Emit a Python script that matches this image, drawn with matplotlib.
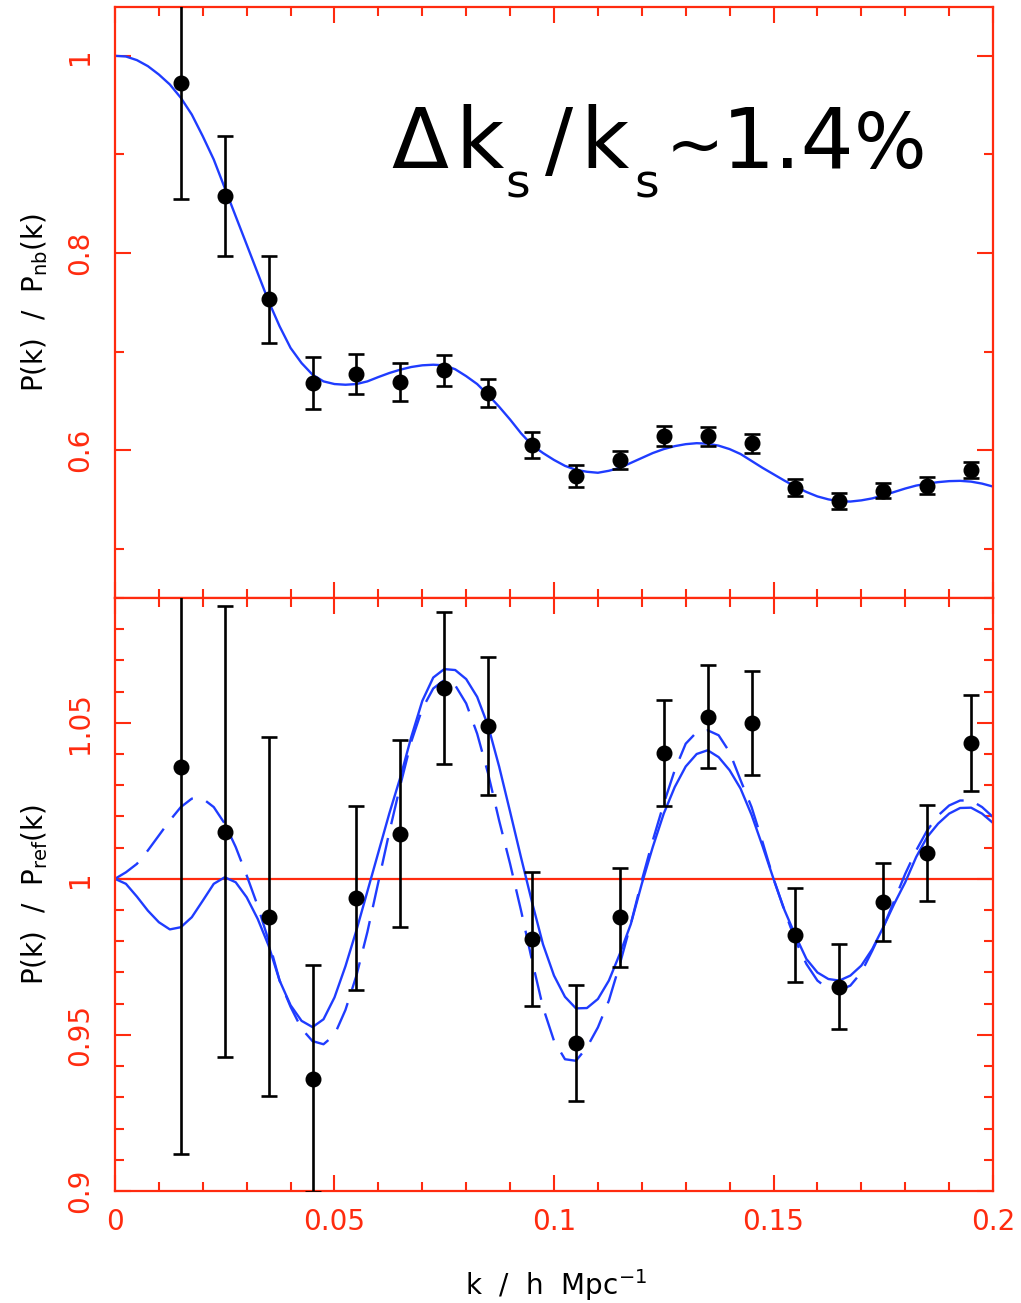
import numpy as np
import matplotlib
matplotlib.use("Agg")
import matplotlib.pyplot as plt
from matplotlib.ticker import MultipleLocator, FuncFormatter

plt.rcParams['font.family'] = ['DejaVu Sans']
plt.rcParams['mathtext.fontset'] = 'dejavusans'

RED = '#ff2b0f'
BLUE = '#1f3cff'

# Bin centres (h/Mpc)
k_bins = [0.015, 0.025, 0.035, 0.045, 0.055, 0.065, 0.075, 0.085, 0.095, 0.105,
          0.115, 0.125, 0.135, 0.145, 0.155, 0.165, 0.175, 0.185, 0.195]

# Upper panel: P(k)/P_nb(k) measurements and 1-sigma errors
ratio_nb = [0.972, 0.858, 0.753, 0.668, 0.677, 0.669, 0.681, 0.658, 0.605, 0.574,
            0.590, 0.614, 0.614, 0.607, 0.562, 0.548, 0.559, 0.564, 0.580]
err_nb = [0.117, 0.061, 0.044, 0.026, 0.020, 0.0195, 0.0157, 0.0138, 0.013, 0.0113,
          0.0093, 0.010, 0.0097, 0.0097, 0.0087, 0.0081, 0.0074, 0.0083, 0.0083]

# Lower panel: P(k)/P_ref(k) measurements and 1-sigma errors
ratio_ref = [1.0357, 1.0151, 0.9879, 0.936, 0.9939, 1.0145, 1.0611, 1.049, 0.9807, 0.9475,
             0.9877, 1.0404, 1.052, 1.0499, 0.982, 0.9655, 0.9925, 1.0082, 1.0434]
err_ref = [0.124, 0.0723, 0.0575, 0.0364, 0.0294, 0.030, 0.0244, 0.0222, 0.0215, 0.0186,
           0.0158, 0.017, 0.0166, 0.0167, 0.015, 0.0137, 0.0125, 0.0154, 0.0154]

# Model curves sampled every 0.0025 h/Mpc from k = 0 to 0.2
k_model = np.round(np.arange(0.0, 0.20001, 0.0025), 4)
model_nb = [
    1.0, 0.9993, 0.9956, 0.9895, 0.981, 0.9709, 0.9574, 0.9404, 0.9184, 0.8948,
    0.866, 0.8372, 0.8085, 0.7797, 0.7509, 0.7256, 0.7036, 0.6883, 0.6765, 0.6697,
    0.667, 0.6663, 0.667, 0.6697, 0.6741, 0.6782, 0.6816, 0.6843, 0.686, 0.6866,
    0.686, 0.682, 0.675, 0.667, 0.656, 0.644, 0.631, 0.617, 0.605, 0.597,
    0.590, 0.584, 0.580, 0.578, 0.577, 0.579, 0.582, 0.587, 0.592, 0.597,
    0.601, 0.604, 0.606, 0.607, 0.6065, 0.6045, 0.601, 0.596, 0.589, 0.582,
    0.5755, 0.569, 0.563, 0.5575, 0.553, 0.550, 0.548, 0.5478, 0.549, 0.551,
    0.554, 0.5575, 0.561, 0.564, 0.566, 0.5675, 0.5685, 0.5688, 0.568, 0.566,
    0.563]
model_ref_solid = [
    1.0, 0.9984, 0.9943, 0.9898, 0.9861, 0.9838, 0.9845, 0.9877, 0.9930, 0.9984,
    1.0005, 0.9989, 0.9941, 0.9872, 0.9786, 0.9674, 0.9595, 0.9545, 0.9525, 0.9550,
    0.9620, 0.9720, 0.9835, 0.9960, 1.0085, 1.0210, 1.0325, 1.0455, 1.0570, 1.0645,
    1.0672, 1.0669, 1.0640, 1.0583, 1.0490, 1.0360, 1.0215, 1.0068, 0.9925, 0.9790,
    0.9690, 0.9622, 0.9585, 0.9586, 0.9615, 0.9674, 0.9760, 0.9855, 0.9984, 1.0102,
    1.0209, 1.0294, 1.0360, 1.0400, 1.0412, 1.0390, 1.0348, 1.0289, 1.0205, 1.0105,
    1.0000, 0.9900, 0.9818, 0.9743, 0.9700, 0.9679, 0.9674, 0.9690, 0.9722, 0.9775,
    0.9845, 0.9920, 0.9989, 1.0070, 1.0134, 1.0177, 1.0209, 1.0227, 1.0228, 1.0209,
    1.0179]
model_ref_dashed = [
    1.0, 1.0021, 1.0048, 1.0091, 1.0139, 1.0187, 1.0230, 1.0257, 1.0257, 1.0230,
    1.0177, 1.0102, 1.0011, 0.9914, 0.9802, 0.9674, 0.9590, 0.9520, 0.9480, 0.9470,
    0.9500, 0.9580, 0.9690, 0.9830, 0.9990, 1.0150, 1.0300, 1.0440, 1.0545, 1.0610,
    1.0637, 1.0620, 1.0562, 1.0465, 1.0337, 1.0187, 1.0048, 0.9898, 0.9738, 0.9588,
    0.9481, 0.9422, 0.9417, 0.9460, 0.9524, 0.9610, 0.9727, 0.9856, 0.9995, 1.0123,
    1.0241, 1.0348, 1.0433, 1.0470, 1.0476, 1.0460, 1.0406, 1.0316, 1.0230, 1.0118,
    1.0000, 0.9898, 0.9802, 0.9727, 0.9674, 0.9647, 0.9642, 0.9658, 0.9700, 0.9770,
    0.9845, 0.9930, 1.0016, 1.0091, 1.0155, 1.0203, 1.0235, 1.0251, 1.0251, 1.0230,
    1.0198]

W, H = 1021, 1303
fig = plt.figure(figsize=(W / 100, H / 100), dpi=100)
ax1 = fig.add_axes([0.1126, 0.5411, 0.8600, 0.4539])
ax2 = fig.add_axes([0.1126, 0.0860, 0.8600, 0.4551])

ebar_kw = dict(fmt='o', color='black', ms=10.5, elinewidth=1.9, capsize=5.8,
               capthick=1.9, zorder=3)

# Upper panel
ax1.plot(k_model, model_nb, color=BLUE, lw=1.7, zorder=2)
ax1.errorbar(k_bins, ratio_nb, yerr=err_nb, **ebar_kw)
ax1.set_xlim(0, 0.2)
ax1.set_ylim(0.45, 1.05)
ax1.yaxis.set_major_locator(MultipleLocator(0.2))
ax1.yaxis.set_minor_locator(MultipleLocator(0.1))
ax1.set_ylabel(r'P(k)  /  P$_{\mathrm{nb}}$(k)', fontsize=20, va='center')
ax1.tick_params(axis='x', labelbottom=False)

# Lower panel
ax2.axhline(1.0, color=RED, lw=1.6, zorder=1)
ax2.plot(k_model, model_ref_solid, color=BLUE, lw=1.7, zorder=2)
ln, = ax2.plot(k_model, model_ref_dashed, color=BLUE, lw=1.7, zorder=2)
ln.set_dashes([12, 6])
ax2.errorbar(k_bins, ratio_ref, yerr=err_ref, **ebar_kw)
ax2.set_xlim(0, 0.2)
ax2.set_ylim(0.9, 1.09)
ax2.yaxis.set_major_locator(MultipleLocator(0.05))
ax2.yaxis.set_minor_locator(MultipleLocator(0.01))
ax2.set_ylabel(r'P(k)  /  P$_{\mathrm{ref}}$(k)', fontsize=20, va='center')

fmt = FuncFormatter(lambda v, pos: '%g' % round(v, 4))
for ax in (ax1, ax2):
    ax.xaxis.set_major_locator(MultipleLocator(0.05))
    ax.xaxis.set_minor_locator(MultipleLocator(0.01))
    ax.xaxis.set_major_formatter(fmt)
    ax.yaxis.set_major_formatter(fmt)
    for sp in ax.spines.values():
        sp.set_color(RED)
        sp.set_linewidth(1.6)
    ax.tick_params(which='both', direction='in', top=True, right=True,
                   color=RED, labelcolor=RED, labelsize=20, width=1.5)
    ax.tick_params(which='major', length=11.5)
    ax.tick_params(which='minor', length=6.5)
    ax.tick_params(axis='y', pad=15, labelrotation=90)
    ax.tick_params(axis='x', pad=12)
    for lab in ax.get_yticklabels():
        lab.set_va('center')
    ax.yaxis.set_label_coords(-0.091, 0.5)

# Axis title along k
fig.text(556 / W, 1 - 1295 / H, r'k  /  h  Mpc$^{-1}$', fontsize=20,
         ha='center', va='baseline')

# Annotation: main glyphs on one baseline, subscripts dropped below it
base = 1 - 168 / H
sub = 1 - 198 / H
pieces = [
    ('Δ', 391, base, 60),
    ('k', 455, base, 60),
    ('s', 505, sub, 34),
    ('/', 545, base, 60),
    ('k', 580, base, 60),
    ('s', 634, sub, 34),
    ('~', 666, base, 50),
    ('1.4', 722, base, 60),
    ('%', 854, base, 55),
]
for txt, xpix, yfrac, size in pieces:
    fig.text(xpix / W, yfrac, txt, fontsize=size, color='black',
             ha='left', va='baseline')

fig.savefig('out.png', dpi=100)
